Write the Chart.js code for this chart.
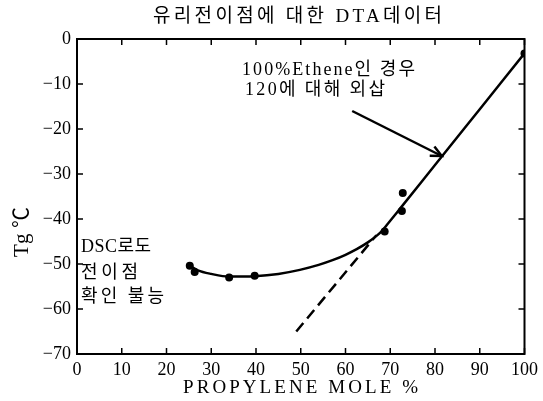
<!DOCTYPE html>
<html><head><meta charset="utf-8">
<script src="https://cdn.jsdelivr.net/npm/chart.js@4"></script>
<style>html,body{margin:0;padding:0;background:#fff}</style>
</head><body>
<canvas id="c" width="543" height="401"></canvas>
<script>
// ---- data ----
const xTickValues = [0,10,20,30,40,50,60,70,80,90,100];
const yTickValues = [0,-10,-20,-30,-40,-50,-60,-70];
const curveX = [25.2, 27, 30, 34, 39.7, 45, 49.8, 54, 57.1, 60, 62.5, 65, 67, 68, 69.5, 72.1, 80, 90, 100];
const curveY = [-50.4, -51.4, -52.2, -52.8, -52.7, -52.2, -51.3, -50.2, -49.15, -47.95, -46.7, -45.2, -43.7, -42.8, -41.0, -37.8, -28.0, -15.6, -3.2];
const dotX = [25.2, 26.3, 34, 39.7, 68.75, 72.6, 72.8, 100];
const dotY = [-50.4, -51.8, -53.0, -52.6, -42.8, -38.2, -34.2, -3.2];
const dashX = [49.0, 66.9];
const dashY = [-65.0, -43.6];
const arrowX = [61.5, 81.5];
const arrowY = [-16.0, -26.0];
const titleText = '유리전이점에 대한 DTA데이터';
const noteLines = ['100%Ethene인 경우', '120에 대해 외삽'];
const dscLines = ['DSC로도', '전이점', '확인 불능'];
const xTitle = 'PROPYLENE MOLE %';
const yTitle = 'Tg ℃';

const FONT = '"Liberation Serif", "Noto Sans CJK KR", serif';
const pts = (xs, ys) => xs.map((x, i) => ({x, y: ys[i]}));

function fitText(ctx, text, x, y, width, size) {
  ctx.font = size + 'px ' + FONT;
  ctx.letterSpacing = '0px';
  const w = ctx.measureText(text).width;
  const n = [...text].length;
  const ls = n > 1 ? (width - w) / (n - 1) : 0;
  ctx.letterSpacing = ls + 'px';
  ctx.textAlign = 'left';
  ctx.textBaseline = 'middle';
  ctx.fillText(text, x, y);
  ctx.letterSpacing = '0px';
}

const decor = {
  id: 'decor',
  afterDraw(chart) {
    const ctx = chart.ctx, a = chart.chartArea;
    const xs = chart.scales.x, ys = chart.scales.y;
    ctx.save();
    ctx.strokeStyle = '#000';
    ctx.fillStyle = '#000';
    ctx.lineWidth = 2;
    ctx.strokeRect(a.left, a.top, a.right - a.left, a.bottom - a.top);
    ctx.lineWidth = 1.5;
    ctx.beginPath();
    xTickValues.forEach(v => {
      const px = xs.getPixelForValue(v);
      ctx.moveTo(px, a.bottom); ctx.lineTo(px, a.bottom - 6);
      ctx.moveTo(px, a.top); ctx.lineTo(px, a.top + 6);
    });
    yTickValues.forEach(v => {
      const py = ys.getPixelForValue(v);
      ctx.moveTo(a.left, py); ctx.lineTo(a.left + 6, py);
      ctx.moveTo(a.right, py); ctx.lineTo(a.right - 6, py);
    });
    ctx.stroke();
    // arrowhead
    const meta = chart.getDatasetMeta(3);
    const p0 = meta.data[0], p1 = meta.data[1];
    const ang = Math.atan2(p1.y - p0.y, p1.x - p0.x);
    ctx.lineWidth = 2.5;
    ctx.beginPath();
    ctx.moveTo(p1.x - 12 * Math.cos(ang - 0.45), p1.y - 12 * Math.sin(ang - 0.45));
    ctx.lineTo(p1.x, p1.y);
    ctx.lineTo(p1.x - 12 * Math.cos(ang + 0.45), p1.y - 12 * Math.sin(ang + 0.45));
    ctx.stroke();
    // texts
    fitText(ctx, titleText, 153, 17, 289, 19);
    fitText(ctx, noteLines[0], 242, 70, 173, 18);
    fitText(ctx, noteLines[1], 245, 90, 140, 18);
    fitText(ctx, dscLines[0], 81, 247, 70, 18);
    fitText(ctx, dscLines[1], 81, 273, 57, 18);
    fitText(ctx, dscLines[2], 81, 297, 83, 18);
    fitText(ctx, xTitle, 183, 388, 235, 19);
    ctx.translate(22, 257);
    ctx.rotate(-Math.PI / 2);
    fitText(ctx, yTitle, 0, 0, 50, 21);
    ctx.restore();
  }
};

new Chart(document.getElementById('c'), {
  type: 'line',
  data: {
    datasets: [
      { data: pts(curveX, curveY), borderColor: '#000', borderWidth: 2.5, pointRadius: 0,
        cubicInterpolationMode: 'monotone', fill: false },
      { data: pts(dotX, dotY), showLine: false, pointRadius: 4, pointBackgroundColor: '#000',
        pointBorderColor: '#000', pointBorderWidth: 0 },
      { data: pts(dashX, dashY), borderColor: '#000', borderWidth: 2.5, borderDash: [11, 6],
        pointRadius: 0, tension: 0 },
      { data: pts(arrowX, arrowY), borderColor: '#000', borderWidth: 2.5, pointRadius: 0, tension: 0 }
    ]
  },
  options: {
    responsive: false,
    animation: false,
    devicePixelRatio: 1,
    layout: { padding: { top: 39, right: 17, bottom: 0, left: 0 } },
    plugins: { legend: { display: false }, title: { display: false }, tooltip: { enabled: false } },
    scales: {
      x: {
        type: 'linear', min: 0, max: 100,
        grid: { display: false, drawTicks: false }, border: { display: false },
        afterBuildTicks: s => { s.ticks = xTickValues.map(v => ({ value: v })); },
        ticks: { color: '#000', padding: 5, maxRotation: 0, autoSkip: false,
          font: { family: FONT, size: 18 }, callback: v => String(v) },
        afterFit: s => { s.height = 47; }
      },
      y: {
        type: 'linear', min: -70, max: 0,
        grid: { display: false, drawTicks: false }, border: { display: false },
        afterBuildTicks: s => { s.ticks = yTickValues.map(v => ({ value: v })); },
        ticks: { color: '#000', padding: 6, autoSkip: false,
          font: { family: FONT, size: 18 }, callback: v => v === 0 ? '0' : '−' + Math.abs(v) },
        afterFit: s => { s.width = 77; }
      }
    }
  },
  plugins: [decor]
});
</script>
</body></html>
